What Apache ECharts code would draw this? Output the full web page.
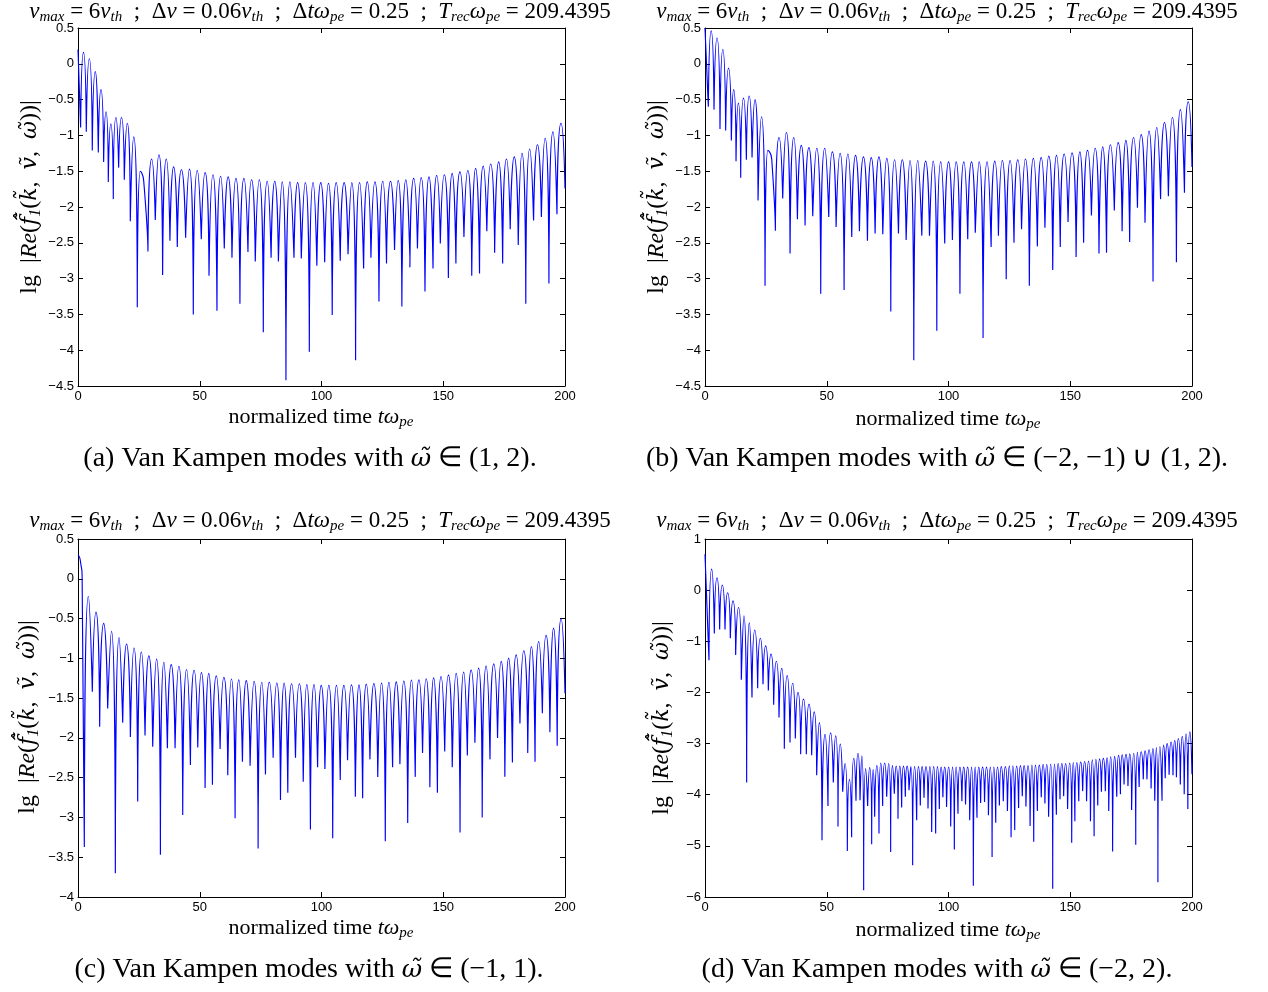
<!DOCTYPE html>
<html>
<head>
<meta charset="utf-8">
<script src="https://cdn.jsdelivr.net/npm/echarts@6/dist/echarts.min.js"></script>
<style>
  html, body { margin: 0; padding: 0; background: #fff; }
  #chart { width: 1268px; height: 992px; }
</style>
</head>
<body>
<div id="chart"></div>
<script>
// lg|Re(f1)| traces: each trace is a run of arches; an arch runs from one
// zero-crossing dip to the next, with its crest value in the *PeakV list
// (a crest given as a list of [t, v] points is drawn through those points).
// *Head holds the opening points before the first dip, the last dip entry is
// the value at the right edge (t = 200).

const xTicks = [0, 50, 100, 150, 200];

// (a) omega in (1,2)
const aHead = [[0, 0.20]];
const aDipT = [1.08, 3.41, 5.87, 8.34, 10.53, 12.44, 14.50, 16.69, 19.01, 21.48, 24.35, 28.73, 31.74, 34.75, 37.76, 40.78, 44.2, 47.35, 50.63, 53.8, 57.07, 60.08, 63.23, 66.5, 69.8, 72.8, 76.1, 79.3, 82.3, 85.4, 88.7, 91.7, 95.0, 98.1, 101.3, 104.4, 107.7, 110.9, 114.0, 117.3, 120.3, 123.6, 126.7, 130.0, 133.0, 136.3, 139.4, 142.5, 145.8, 148.8, 152.1, 155.2, 158.5, 161.7, 164.9, 167.9, 171.1, 174.4, 177.5, 180.8, 183.9, 187.1, 190.3, 193.4, 196.7, 200];
const aDipV = [-0.89, -0.95, -1.21, -1.24, -1.37, -1.65, -1.89, -1.45, -1.62, -2.20, -3.40, -2.62, -2.18, -2.95, -2.47, -2.56, -2.43, -3.50, -2.45, -2.96, -3.45, -2.58, -2.71, -3.35, -2.63, -2.76, -3.75, -2.71, -2.76, -4.42, -2.71, -2.72, -4.02, -2.82, -2.77, -3.51, -2.75, -2.66, -4.14, -2.86, -2.71, -3.32, -2.79, -2.60, -3.39, -2.84, -2.58, -3.18, -2.86, -2.51, -2.99, -2.79, -2.42, -2.96, -2.93, -2.34, -2.64, -2.79, -2.31, -2.53, -3.35, -2.19, -2.14, -3.07, -2.10, -1.74];
const aPeakV = [0.16, 0.07, -0.11, -0.36, -0.67, -0.84, -0.75, -0.75, -0.83, -1.02, [[25.6, -1.50], [27.0, -1.64]], -1.33, -1.27, -1.33, -1.44, -1.48, -1.47, -1.49, -1.52, -1.55, -1.57, -1.58, -1.60, -1.60, -1.62, -1.62, -1.64, -1.64, -1.65, -1.65, -1.66, -1.66, -1.66, -1.66, -1.67, -1.66, -1.66, -1.66, -1.66, -1.65, -1.65, -1.64, -1.64, -1.63, -1.62, -1.60, -1.59, -1.58, -1.56, -1.55, -1.53, -1.51, -1.49, -1.46, -1.43, -1.40, -1.37, -1.33, -1.30, -1.25, -1.19, -1.13, -1.04, -0.95, -0.83];

// (b) omega in (-2,-1) U (1,2)
const bHead = [[0, 0.50]];
const bDipT = [1.37, 3.70, 6.16, 8.49, 10.82, 12.74, 14.66, 16.99, 19.32, 21.78, 24.66, 28.90, 31.92, 34.93, 37.95, 41.10, 44.25, 47.53, 50.82, 53.84, 57.12, 60.27, 63.42, 66.71, 69.86, 73.01, 76.30, 79.45, 82.60, 85.75, 89.04, 92.19, 95.2, 98.45, 101.6, 104.7, 107.9, 111.0, 114.2, 117.5, 120.5, 123.7, 126.9, 130.0, 133.2, 136.5, 139.6, 142.8, 145.9, 149.1, 152.4, 155.5, 158.7, 161.8, 164.9, 168.1, 171.3, 174.4, 177.6, 180.7, 184.0, 187.1, 190.3, 193.6, 196.9, 200];
const bDipV = [-0.60, -0.64, -0.91, -0.93, -1.07, -1.36, -1.59, -1.34, -1.31, -1.91, -3.10, -2.33, -1.88, -2.65, -2.17, -2.26, -2.13, -3.21, -2.14, -2.28, -3.16, -2.42, -2.34, -2.47, -2.37, -2.38, -3.46, -2.37, -2.46, -4.14, -2.40, -2.40, -3.73, -2.51, -2.46, -3.21, -2.45, -2.36, -3.83, -2.56, -2.40, -3.01, -2.50, -2.31, -3.10, -2.55, -2.29, -2.88, -2.56, -2.21, -2.70, -2.50, -2.12, -2.65, -2.64, -2.05, -2.34, -2.49, -2.01, -2.22, -3.04, -1.89, -1.85, -2.77, -1.80, -1.44];
const bPeakV = [0.46, 0.36, 0.20, -0.06, -0.36, -0.55, -0.48, -0.45, -0.50, -0.74, [[25.8, -1.21], [27.4, -1.33]], -1.03, -0.96, -1.03, -1.14, -1.17, -1.18, -1.18, -1.23, -1.25, -1.26, -1.28, -1.30, -1.31, -1.30, -1.32, -1.34, -1.34, -1.35, -1.35, -1.36, -1.36, -1.37, -1.37, -1.37, -1.37, -1.37, -1.37, -1.37, -1.36, -1.35, -1.35, -1.34, -1.33, -1.32, -1.31, -1.29, -1.28, -1.26, -1.245, -1.23, -1.21, -1.18, -1.16, -1.13, -1.10, -1.07, -1.03, -0.99, -0.94, -0.89, -0.82, -0.75, -0.64, -0.53];

// (c) omega in (-1,1)
const cHead = [[0, 0.30], [1.0, 0.22], [1.7, 0.0]];
const cDipT = [2.60, 5.89, 8.90, 12.19, 15.34, 18.36, 21.51, 24.52, 27.53, 30.68, 33.84, 36.71, 39.86, 43.01, 46.16, 49.18, 52.19, 55.21, 58.36, 61.51, 64.52, 67.53, 70.68, 73.97, 76.99, 80.14, 83.15, 86.16, 89.32, 92.5, 95.45, 98.4, 101.4, 104.6, 107.7, 110.7, 113.9, 116.9, 119.9, 123.1, 126.2, 129.2, 132.2, 135.4, 138.5, 141.5, 144.5, 147.6, 150.6, 153.7, 156.9, 159.9, 163.0, 166.0, 169.2, 172.3, 175.3, 178.4, 181.5, 184.7, 187.7, 190.7, 193.8, 196.8, 200];
const cDipV = [-3.37, -1.42, -1.86, -1.63, -3.70, -1.81, -1.99, -2.80, -1.97, -2.11, -3.47, -2.13, -2.13, -2.97, -2.34, -2.12, -2.63, -2.59, -2.14, -2.47, -3.01, -2.30, -2.35, -3.39, -2.46, -2.25, -2.78, -2.69, -2.25, -2.55, -3.15, -2.37, -2.39, -3.26, -2.53, -2.28, -2.74, -2.76, -2.27, -2.49, -3.30, -2.37, -2.33, -3.07, -2.49, -2.19, -2.62, -2.69, -2.17, -2.37, -3.19, -2.22, -2.06, -3.00, -2.27, -2.00, -2.49, -2.31, -1.82, -2.19, -2.30, -1.69, -1.93, -2.10, -1.44];
const cPeakV = [-0.22, -0.42, -0.56, -0.66, -0.74, -0.82, -0.87, -0.92, -0.97, -1.01, -1.05, -1.08, -1.10, -1.14, -1.15, -1.18, -1.19, -1.22, -1.24, -1.26, -1.27, -1.28, -1.29, -1.30, -1.30, -1.31, -1.31, -1.32, -1.32, -1.33, -1.33, -1.34, -1.34, -1.34, -1.34, -1.333, -1.333, -1.324, -1.316, -1.312, -1.303, -1.295, -1.287, -1.274, -1.27, -1.257, -1.245, -1.228, -1.211, -1.19, -1.173, -1.148, -1.123, -1.098, -1.069, -1.039, -0.997, -0.956, -0.905, -0.851, -0.788, -0.712, -0.62, -0.503];

// (d) omega in (-2,2)
const dHead = [[0, 0.70]];
const dDipT = [1.64, 3.83, 6.02, 8.21, 10.40, 12.59, 14.92, 17.11, 19.30, 21.63, 23.82, 26.01, 28.20, 30.39, 32.58, 34.91, 37.10, 39.29, 41.62, 43.81, 45.86, 48.05, 50.51, 52.70, 54.62, 56.54, 58.45, 60.23, 62.01, 63.66, 65.16, 66.80, 68.45, 69.68, 71.46, 72.96, 74.61, 76.25, 77.75, 79.26, 80.77, 82.27, 83.78, 85.28, 86.93, 88.43, 89.94, 91.58, 93.09, 94.73, 96.24, 97.7, 99.2, 100.9, 102.4, 103.9, 105.5, 107.0, 108.7, 110.2, 111.7, 113.2, 114.8, 116.4, 117.9, 119.4, 120.9, 122.5, 124.2, 125.7, 127.2, 128.8, 130.3, 131.8, 133.5, 135.0, 136.5, 138.1, 139.6, 141.1, 142.8, 144.3, 145.8, 147.3, 148.9, 150.6, 151.9, 153.5, 155.1, 156.7, 158.3, 159.8, 161.3, 162.8, 164.4, 165.8, 167.4, 169.1, 170.6, 172.1, 173.7, 175.2, 176.9, 178.3, 180.0, 181.5, 183.2, 184.7, 186.0, 187.7, 189.0, 190.6, 192.2, 193.6, 195.2, 196.8, 198.3, 200];
const dDipV = [-1.37, -0.85, -0.77, -0.77, -0.94, -1.27, -1.75, -3.76, -2.10, -1.92, -1.84, -1.96, -2.24, -2.49, -3.10, -2.98, -2.90, -3.21, -3.21, -3.23, -3.62, -4.89, -4.22, -3.76, -4.62, -3.94, -5.10, -4.83, -4.12, -4.11, -5.87, -4.22, -4.97, -4.43, -4.76, -4.22, -4.04, -5.12, -3.98, -4.47, -4.25, -4.04, -3.91, -5.38, -4.50, -4.21, -4.06, -4.27, -4.73, -4.76, -4.28, -4.05, -4.24, -4.62, -5.07, -4.37, -4.13, -4.19, -4.50, -5.78, -4.45, -4.16, -4.14, -4.40, -5.22, -4.55, -4.21, -4.13, -4.32, -4.83, -4.69, -4.26, -4.03, -4.23, -4.61, -4.92, -4.32, -4.05, -4.17, -4.43, -5.84, -4.39, -4.09, -4.03, -4.28, -4.94, -4.52, -4.13, -3.93, -4.13, -4.52, -4.81, -4.21, -3.94, -3.93, -4.32, -5.11, -4.04, -3.99, -3.80, -3.83, -4.30, -4.98, -3.85, -3.70, -3.70, -3.88, -4.12, -5.71, -4.12, -3.68, -3.61, -3.62, -3.66, -3.80, -3.99, -4.28, -3.60];
const dPeakV = [0.41, 0.24, 0.10, -0.05, -0.21, -0.34, -0.50, -0.64, -0.78, -0.94, -1.09, -1.25, -1.39, -1.53, -1.67, -1.82, -2.00, -2.13, -2.23, -2.38, -2.59, -2.82, -2.79, -2.85, -3.01, -3.39, -3.70, -3.29, -3.19, -3.24, -3.49, -3.47, -3.51, -3.43, -3.38, -3.38, -3.39, -3.43, -3.44, -3.44, -3.44, -3.44, -3.45, -3.45, -3.45, -3.45, -3.45, -3.45, -3.45, -3.45, -3.46, -3.46, -3.46, -3.46, -3.46, -3.46, -3.46, -3.46, -3.46, -3.46, -3.46, -3.46, -3.46, -3.46, -3.46, -3.46, -3.45, -3.45, -3.44, -3.44, -3.44, -3.43, -3.43, -3.43, -3.42, -3.42, -3.42, -3.41, -3.41, -3.40, -3.40, -3.39, -3.39, -3.39, -3.38, -3.37, -3.37, -3.36, -3.35, -3.34, -3.32, -3.31, -3.30, -3.29, -3.28, -3.26, -3.25, -3.23, -3.22, -3.21, -3.20, -3.19, -3.17, -3.16, -3.14, -3.12, -3.10, -3.08, -3.06, -3.03, -3.00, -2.97, -2.94, -2.90, -2.86, -2.81, -2.77];

const yRanges = [
  { min: -4.5, max: 0.5, interval: 0.5 },
  { min: -4.5, max: 0.5, interval: 0.5 },
  { min: -4, max: 0.5, interval: 0.5 },
  { min: -6, max: 1, interval: 1 }
];

// Each arch becomes its own smoothed segment (dip -> crest -> dip), separated
// by a null so the dips stay sharp cusps while the crests are rounded.
function trace(head, dipT, dipV, peakV) {
  const pts = head.map(p => [p[0], p[1]]);
  pts.push([dipT[0], dipV[0]]);
  for (let i = 0; i < peakV.length; i++) {
    pts.push([dipT[i], null]);
    pts.push([dipT[i], dipV[i]]);
    const crest = peakV[i];
    if (Array.isArray(crest)) {
      crest.forEach(p => pts.push([p[0], p[1]]));
    } else {
      pts.push([(dipT[i] + dipT[i + 1]) / 2, crest]);
    }
    pts.push([dipT[i + 1], dipV[i + 1]]);
  }
  return pts;
}

const traces = [
  trace(aHead, aDipT, aDipV, aPeakV),
  trace(bHead, bDipT, bDipV, bPeakV),
  trace(cHead, cDipT, cDipV, cPeakV),
  trace(dHead, dDipT, dDipV, dPeakV)
];

const grids = [
  { left: 78, top: 28, width: 487, height: 358 },
  { left: 705, top: 28, width: 487, height: 358 },
  { left: 78, top: 539, width: 487, height: 358 },
  { left: 705, top: 539, width: 487, height: 358 }
];

const tickFont = { fontFamily: 'Liberation Sans', fontSize: 13, color: '#000' };
const fmtNum = v => {
  const r = Math.round(v * 100) / 100;
  return r < 0 ? '\u2212' + String(-r) : String(r);
};
const axisLine = { show: true, onZero: false, lineStyle: { color: '#000', width: 1 } };
const tick = { show: true, inside: true, length: 5, lineStyle: { color: '#000', width: 1 } };

const xAxes = [], yAxes = [], series = [];
grids.forEach((g, i) => {
  const xr = { type: 'value', gridIndex: i, min: 0, max: 200, interval: 50 };
  xAxes.push(Object.assign({}, xr, {
    position: 'bottom', axisLine, axisTick: tick, splitLine: { show: false },
    axisLabel: Object.assign({ margin: 4, formatter: fmtNum }, tickFont)
  }));
  xAxes.push(Object.assign({}, xr, {
    position: 'top', axisLine, axisTick: tick, splitLine: { show: false },
    axisLabel: { show: false }
  }));
  const yr = Object.assign({ type: 'value', gridIndex: i }, yRanges[i]);
  yAxes.push(Object.assign({}, yr, {
    position: 'left', axisLine, axisTick: tick, splitLine: { show: false },
    axisLabel: Object.assign({ margin: 4, formatter: fmtNum }, tickFont)
  }));
  yAxes.push(Object.assign({}, yr, {
    position: 'right', axisLine, axisTick: tick, splitLine: { show: false },
    axisLabel: { show: false }
  }));
  series.push({
    type: 'line',
    xAxisIndex: 2 * i,
    yAxisIndex: 2 * i,
    data: traces[i],
    showSymbol: false,
    smooth: 0.75,
    connectNulls: false,
    lineStyle: { color: '#0000ff', width: 1.15 },
    silent: true,
    clip: true
  });
});

// Rich-text styles for the math-set labels; accented symbols use DejaVu,
// whose combining marks sit over the base glyph.
const serif = 'Liberation Serif';
function mathRich(size, subSize, subPad) {
  return {
    r: { fontFamily: serif, fontSize: size, color: '#000' },
    m: { fontFamily: serif, fontSize: size, fontStyle: 'italic', color: '#000' },
    t: { fontFamily: 'DejaVu Serif', fontSize: Math.round(size * 0.9), fontStyle: 'italic', color: '#000' },
    s: { fontFamily: serif, fontSize: subSize, fontStyle: 'italic', color: '#000', padding: [subPad, 0, 0, 0] }
  };
}

const titleText = '{m|v}{s|max}{r| = 6}{m|v}{s|th}{r|  ;  Δ}{m|v}{r| = 0.06}{m|v}{s|th}{r|  ;  Δ}{m|tω}{s|pe}{r| = 0.25  ;  }{m|T}{s|rec}{m|ω}{s|pe}{r| = 209.4395}';
const yLabelText = '{r|lg  }{r||}{m|Re}{r|(}{t|f\u0303\u0302}{s|1}{r|(}{t|k\u0303}{r|,  }{t|v\u0303}{r|,  }{t|\u03C9\u0303}{r|))|}';
const xLabelText = '{r|normalized time }{m|tω}{s|pe}';
const captions = [
  '{r|(a) Van Kampen modes with }{t|\u03C9\u0303}{r| ∈ (1, 2).}',
  '{r|(b) Van Kampen modes with }{t|\u03C9\u0303}{r| ∈ (\u22122, \u22121) ∪ (1, 2).}',
  '{r|(c) Van Kampen modes with }{t|\u03C9\u0303}{r| ∈ (\u22121, 1).}',
  '{r|(d) Van Kampen modes with }{t|\u03C9\u0303}{r| ∈ (\u22122, 2).}'
];

const titlePos = [[320, 12], [947, 12], [320, 521], [947, 521]];
const yLabelPos = [[30, 197], [657, 197], [28, 717], [662, 718]];
const xLabelPos = [[321, 417], [948, 419], [321, 928], [948, 930]];
const captionPos = [[310, 459], [937, 459], [309, 970], [937, 970]];

function textEl(x, y, text, rich, rotation) {
  return {
    type: 'text', x, y, rotation: rotation || 0, silent: true,
    style: { text, rich, align: 'center', verticalAlign: 'middle' }
  };
}

const graphics = [];
for (let i = 0; i < 4; i++) {
  graphics.push(textEl(titlePos[i][0], titlePos[i][1], titleText, mathRich(23, 15, 11)));
  graphics.push(textEl(yLabelPos[i][0], yLabelPos[i][1], yLabelText, mathRich(24, 16, 11), Math.PI / 2));
  graphics.push(textEl(xLabelPos[i][0], xLabelPos[i][1], xLabelText, mathRich(22, 15, 11)));
  graphics.push(textEl(captionPos[i][0], captionPos[i][1], captions[i], mathRich(28, 19, 12)));
}

const chart = echarts.init(document.getElementById('chart'), null, { renderer: 'canvas' });
chart.setOption({
  animation: false,
  backgroundColor: '#fff',
  grid: grids,
  xAxis: xAxes,
  yAxis: yAxes,
  series,
  graphic: graphics
});
</script>
</body>
</html>
